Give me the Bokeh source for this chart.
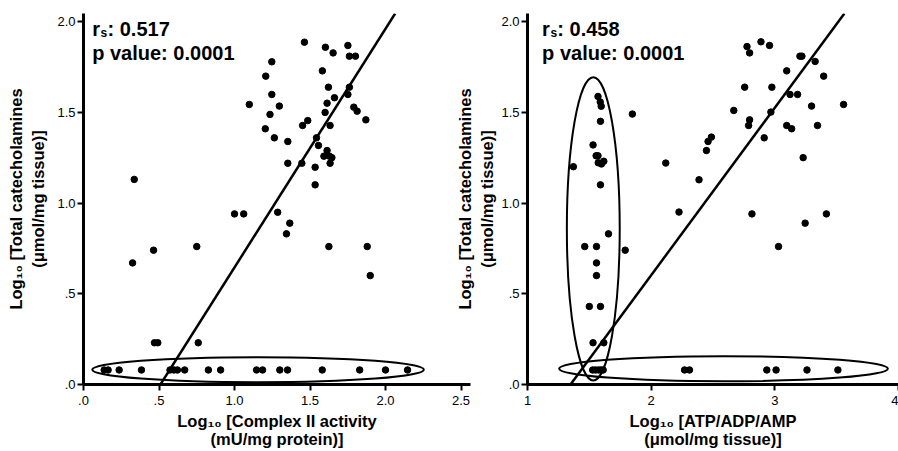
import math
from bokeh.plotting import figure
from bokeh.models import Range1d, FixedTicker, Label
from bokeh.layouts import row
from bokeh.embed import file_html
from bokeh.resources import INLINE

# ---------------- data ----------------
left_x = [1.463, 1.602, 1.653, 1.751, 1.761, 1.801, 1.247, 1.207, 1.582, 1.622,
          1.761, 1.751, 1.247, 1.662, 1.098, 1.297, 1.613, 1.235, 1.600, 1.790,
          1.812, 1.870, 1.485, 1.451, 1.633, 1.204, 1.264, 1.353, 1.543, 1.556,
          1.613, 1.592, 1.629, 1.645, 1.633, 1.353, 1.446, 1.534, 1.534, 0.336,
          1.000, 1.061, 1.286, 1.366, 1.344,
          0.464, 0.325, 0.750, 1.625, 1.879, 1.899, 0.470, 0.492, 0.760,
          0.137, 0.163, 0.236, 0.384, 0.573, 0.599, 0.622, 0.670, 0.827, 0.908,
          1.146, 1.186, 1.300, 1.351, 1.581, 1.829, 2.000, 2.146]
left_y = [1.886, 1.858, 1.827, 1.868, 1.809, 1.809, 1.778, 1.699, 1.728, 1.638,
          1.638, 1.598, 1.598, 1.580, 1.543, 1.534, 1.550, 1.488, 1.499, 1.528,
          1.506, 1.458, 1.454, 1.427, 1.427, 1.409, 1.359, 1.339, 1.359, 1.317,
          1.289, 1.258, 1.258, 1.250, 1.219, 1.219, 1.219, 1.197, 1.100, 1.130,
          0.940, 0.940, 0.949, 0.889, 0.830,
          0.740, 0.670, 0.760, 0.760, 0.760, 0.600, 0.230, 0.230, 0.230,
          0.080, 0.080, 0.080, 0.080, 0.080, 0.080, 0.080, 0.080, 0.080, 0.080,
          0.080, 0.080, 0.080, 0.080, 0.080, 0.080, 0.080, 0.080]

right_x = [1.371, 1.570, 1.588, 1.596, 1.590, 1.530, 1.555, 1.570, 1.572, 1.598,
           1.617, 1.590, 1.655, 1.463, 1.558, 1.790, 1.558, 1.558, 1.500, 1.590,
           1.530, 1.617, 1.527, 1.550, 1.575, 1.595, 1.612, 1.848,
           2.118, 2.225, 2.387, 2.447, 2.460, 2.487, 2.668, 2.756, 2.775, 2.796,
           2.888, 2.957, 2.796, 2.788, 2.976, 2.968, 2.914, 2.815,
           3.096, 3.203, 3.219, 3.123, 3.184, 3.096, 3.136, 3.297, 3.326, 3.395,
           3.345, 3.229, 3.556, 3.417, 3.245, 3.030,
           2.270, 2.310, 2.935, 3.010, 3.260, 3.510]
right_y = [1.200, 1.587, 1.557, 1.533, 1.450, 1.320, 1.260, 1.260, 1.222, 1.215,
           1.230, 1.100, 0.830, 0.760, 0.760, 0.740, 0.670, 0.600, 0.430, 0.430,
           0.230, 0.230, 0.080, 0.080, 0.080, 0.080, 0.080, 1.490,
           1.220, 0.950, 1.128, 1.289, 1.339, 1.363, 1.510, 1.638, 1.862, 1.827,
           1.888, 1.868, 1.458, 1.427, 1.638, 1.501, 1.359, 0.940,
           1.728, 1.809, 1.809, 1.598, 1.598, 1.427, 1.409, 1.534, 1.780, 1.699,
           1.427, 1.250, 1.543, 0.940, 0.889, 0.760,
           0.080, 0.080, 0.080, 0.080, 0.080, 0.080]

# regression lines: slope, intercept
left_fit_slope, left_fit_intercept = 1.315, -0.670
right_fit_slope, right_fit_intercept = 0.923, -1.244

# highlight ellipses (centre x, centre y, width, height) in data units
left_ell_x, left_ell_y, left_ell_w, left_ell_h = [1.156], [0.0815], [2.196], [0.138]
right_ell_x = [2.585, 1.532]
right_ell_y = [0.087, 0.858]
right_ell_w = [2.658, 0.4275]
right_ell_h = [0.138, 1.671]

y_ticks = [0.0, 0.5, 1.0, 1.5, 2.0]
y_tick_labels = [".0", ".5", "1.0", "1.5", "2.0"]
left_x_ticks = [0.0, 0.5, 1.0, 1.5, 2.0, 2.5]
left_x_tick_labels = [".0", ".5", "1.0", "1.5", "2.0", "2.5"]
right_x_ticks = [1.0, 2.0, 3.0, 4.0]
right_x_tick_labels = ["1", "2", "3", "4"]

left_rs, left_p = "0.517", "0.0001"
right_rs, right_p = "0.458", "0.0001"

y_title = ["Log\u2081\u2080 [Total catecholamines", "(\u03bcmol/mg tissue)]"]
left_x_title = ["Log\u2081\u2080 [Complex II activity", "(mU/mg protein)]"]
right_x_title = ["Log\u2081\u2080 [ATP/ADP/AMP", "(\u03bcmol/mg tissue)]"]

# ---------------- geometry ----------------
FONT = "Liberation Sans"
TITLE_SIZE = "16.5px"
H = 451
TOP = 13
FRAME_H = 371
BOTTOM = H - TOP - FRAME_H
PX_Y = 181.5
OVERLAP = 26
L_W, L_BL, L_BR = 478, 83, 8
R_W, R_BL, R_BR = 446, 73, 0

FRAME_BOTTOM_PAGE = TOP + FRAME_H
L_FRAME_LEFT_PAGE = L_BL
R_FRAME_LEFT_PAGE = L_W - OVERLAP + R_BL

y_end = FRAME_H / PX_Y
PX_XL = 151.0
l_x_end = (L_W - L_BL - L_BR) / PX_XL
r_x_start, r_x_end = 1.0, 4.0
PX_XR = (R_W - R_BL - R_BR) / (r_x_end - r_x_start)


def ly(py):
    return (FRAME_BOTTOM_PAGE - py) / PX_Y


def lx(px):
    return (px - L_FRAME_LEFT_PAGE) / PX_XL


def rx(px):
    return r_x_start + (px - R_FRAME_LEFT_PAGE) / PX_XR


def make_fig(width, bl, br, x_start, x_end, xticks, xlabels, xtitle, ytitle,
             ystand):
    p = figure(width=width, height=H, x_range=Range1d(x_start, x_end),
               y_range=Range1d(0, y_end), output_backend="svg",
               toolbar_location=None, title=None,
               min_border_left=bl, min_border_right=br,
               min_border_top=TOP, min_border_bottom=BOTTOM)
    p.grid.visible = False
    p.outline_line_color = None
    for ax in p.axis:
        ax.axis_line_width = 3
        ax.axis_line_color = "black"
        ax.major_tick_line_width = 2
        ax.major_tick_line_color = "black"
        ax.major_tick_out = 6
        ax.major_tick_in = 0
        ax.minor_tick_line_color = None
        ax.major_label_text_font = FONT
        ax.major_label_text_font_size = "13px"
        ax.major_label_text_color = "black"
        ax.axis_label_text_font = FONT
        ax.axis_label_text_font_size = TITLE_SIZE
        ax.axis_label_text_font_style = "bold"
        ax.axis_label_text_color = "black"
    p.yaxis.ticker = FixedTicker(ticks=y_ticks)
    p.yaxis.major_label_overrides = dict(zip(y_ticks, y_tick_labels))
    p.yaxis.major_label_standoff = 2
    p.yaxis.axis_label = "\n".join(ytitle)
    p.yaxis.axis_label_text_line_height = 1.27
    p.yaxis.axis_label_standoff = ystand
    p.xaxis.ticker = FixedTicker(ticks=xticks)
    p.xaxis.major_label_overrides = dict(zip(xticks, xlabels))
    p.xaxis.major_label_standoff = 5
    p.xaxis.axis_label = "\n".join(xtitle)
    p.xaxis.axis_label_text_line_height = 1.0
    p.xaxis.axis_label_standoff = 4
    return p


def add_text(p, x, y, text, size):
    p.add_layout(Label(x=x, y=y, text=text, text_font=FONT,
                       text_font_size=size, text_font_style="bold",
                       text_color="black", text_align="left",
                       text_baseline="alphabetic"))


def add_stats(p, xconv, x0, rs, pval):
    add_text(p, xconv(x0), ly(28), "r", "20px")
    add_text(p, xconv(x0 + 8.3), ly(32.5), "s", "12px")
    add_text(p, xconv(x0 + 15.3), ly(28), ": " + rs, "20px")
    add_text(p, xconv(x0), ly(52.5), "p value: " + pval, "20px")


def add_fit(p, slope, intercept, x_lo, x_hi):
    xa = max(x_lo, (0 - intercept) / slope)
    xb = min(x_hi, (y_end - intercept) / slope)
    p.line([xa, xb], [slope * xa + intercept, slope * xb + intercept],
           line_color="black", line_width=2.5)


# ---------------- left panel ----------------
pl = make_fig(L_W, L_BL, L_BR, 0, l_x_end, left_x_ticks, left_x_tick_labels,
              left_x_title, y_title, 7)
pl.background_fill_color = "white"
pl.border_fill_color = "white"
pl.ellipse(x=left_ell_x, y=left_ell_y, width=left_ell_w, height=left_ell_h,
           fill_color=None, line_color="black", line_width=2)
add_fit(pl, left_fit_slope, left_fit_intercept, 0, l_x_end)
pl.scatter(left_x, left_y, size=6.5, color="black")
add_stats(pl, lx, 91.7, left_rs, left_p)

# ---------------- right panel ----------------
pr = make_fig(R_W, R_BL, R_BR, r_x_start, r_x_end, right_x_ticks,
              right_x_tick_labels, right_x_title, y_title, 2)
pr.background_fill_color = None
pr.border_fill_color = None
pr.margin = (0, 0, 0, -OVERLAP)
pr.ellipse(x=right_ell_x, y=right_ell_y, width=right_ell_w, height=right_ell_h,
           fill_color=None, line_color="black", line_width=2)
add_fit(pr, right_fit_slope, right_fit_intercept, r_x_start, r_x_end)
pr.scatter(right_x, right_y, size=6.5, color="black")
add_stats(pr, rx, 539.7, right_rs, right_p)

layout = row(pl, pr)
open("out.html", "w").write(file_html(layout, INLINE))
